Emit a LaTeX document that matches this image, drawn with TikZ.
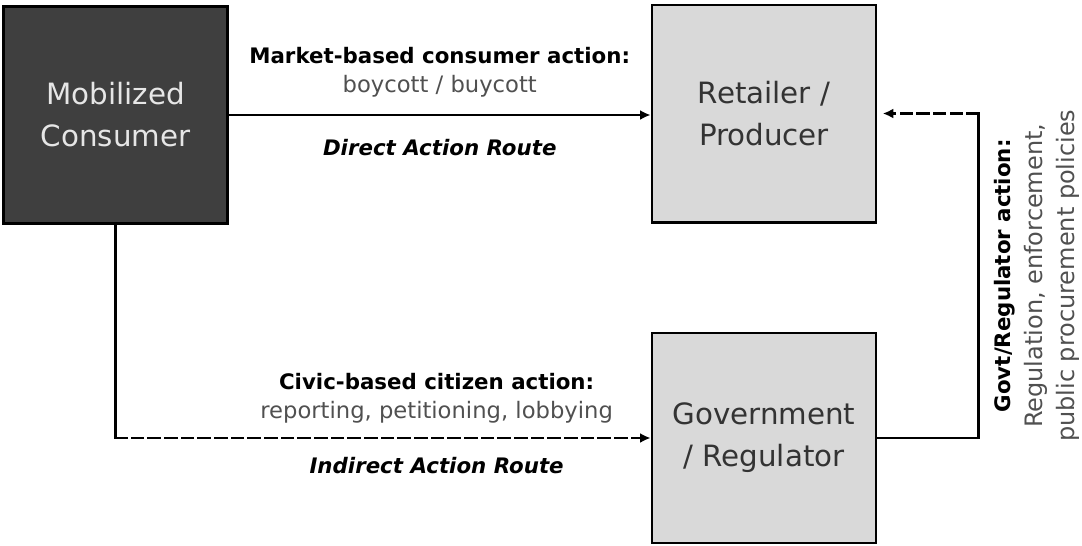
\documentclass[tikz,border=0pt]{standalone}
\usepackage{fontspec}
\setmainfont{DejaVu Sans}
\usepackage{tikz}
\usetikzlibrary{arrows.meta,positioning}

\definecolor{darkfill}{HTML}{3F3F3F}
\definecolor{lightfill}{HTML}{D9D9D9}
\definecolor{paletext}{HTML}{E6E6E6}
\definecolor{ink}{HTML}{333333}
\definecolor{soft}{HTML}{505050}

\newcommand{\detail}[1]{{\fontsize{17}{22}\selectfont\color{soft}#1}}

\begin{document}
\begin{tikzpicture}[x=0.75pt,y=-0.75pt,
    box/.style={rectangle,draw,line width=2pt,align=center,
      font=\fontsize{22}{31.5}\selectfont,minimum width=168pt,minimum height=163pt},
    link/.style={line width=2.2pt,line cap=rect},
    route/.style={link,-{Latex[length=8pt,width=7.5pt]}},
    dashlink/.style={dash pattern=on 8pt off 4.5pt},
    lbl/.style={font=\fontsize{16}{22}\selectfont,align=center,inner sep=2pt}]
  \useasboundingbox (0,0) rectangle (1082,546);
  \node[box,fill=darkfill,text=paletext] (M) at (115.5,115) {Mobilized\\Consumer};
  \node[box,fill=lightfill,text=ink] (R) at (764,113.5) {Retailer /\\Producer};
  \node[box,fill=lightfill,text=ink,minimum height=157.5pt] (G) at (764,438) {Government\\/ Regulator};
  \coordinate (B1) at (M.south |- G.west);
  \coordinate (B2) at ([xshift=75.75pt]G.east);
  \coordinate (B3) at (B2 |- R.east);
  \draw[route] (M.east) --
    node[lbl,above=10pt] {\textbf{Market-based consumer action:}\\\detail{boycott / buycott}}
    node[lbl,below=15pt] {\textbf{\textit{Direct Action Route}}} (M.east -| R.west);
  \draw[link] (M.south) -- (B1);
  \draw[route,dashlink] (B1) --
    node[pos=0.6,lbl,above=8pt] {\textbf{Civic-based citizen action:}\\\detail{reporting, petitioning, lobbying}}
    node[pos=0.6,lbl,below=11.5pt] {\textbf{\textit{Indirect Action Route}}} (G.west);
  \draw[link] (G.east) -- (B2) --
    node[lbl,rotate=90,anchor=north,inner sep=11pt,font=\fontsize{16}{24}\selectfont]
      {\textbf{Govt/Regulator action:}\\{\fontsize{18}{24}\selectfont\color{soft}Regulation, enforcement,}\\
       {\fontsize{18}{24}\selectfont\color{soft}public procurement policies}} (B3);
  \draw[route,dashlink,shorten >=4pt] (B3) -- (R.east);
\end{tikzpicture}
\end{document}
